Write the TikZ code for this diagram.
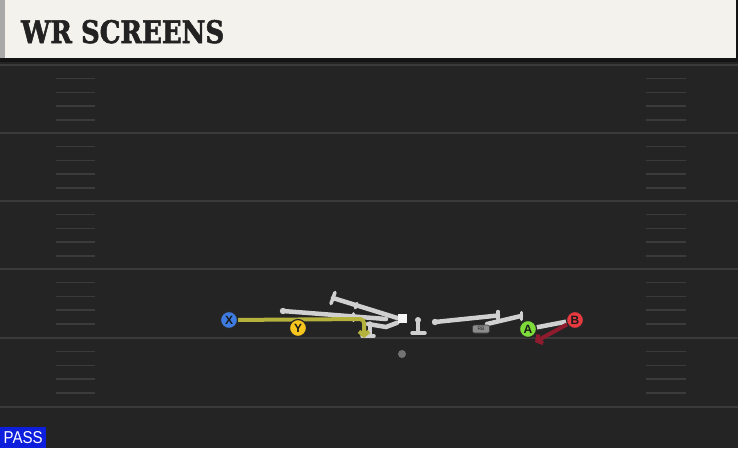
\documentclass[tikz,border=0pt]{standalone}
\usepackage{fontspec}
\usepackage{graphicx}
\usetikzlibrary{arrows.meta}
\newfontfamily\titlefont[BoldFeatures={FakeBold=2}]{DejaVu Serif}
\newfontfamily\sansf{Liberation Sans}
\definecolor{bgc}{HTML}{242424}
\definecolor{yardc}{HTML}{3A3A3A}
\definecolor{hashc}{HTML}{3B3B3B}
\definecolor{creamc}{HTML}{F4F2EC}
\definecolor{stripc}{HTML}{A9A9A9}
\definecolor{bandc}{HTML}{141414}
\definecolor{titlec}{HTML}{222222}
\definecolor{passc}{HTML}{0D1FDD}
\definecolor{routec}{HTML}{D0D0D0}
\definecolor{yelc}{HTML}{B4B23C}
\definecolor{redc}{HTML}{8E1B2E}
\definecolor{xc}{HTML}{3D7BE0}
\definecolor{yc}{HTML}{F6C61F}
\definecolor{ac}{HTML}{7EDC3A}
\definecolor{bc}{HTML}{E63A40}
\pgfdeclarelayer{field}
\pgfdeclarelayer{routes}
\pgfsetlayers{field,routes,main}
\tikzset{
  yard/.style={draw=yardc, line width=2pt},
  hashmark/.style={draw=hashc, line width=1.5pt},
  route/.style={draw=routec, line width=4.5pt, line cap=round},
  barline/.style={draw=routec, line width=3.5pt, line cap=round},
  player/.style={circle, minimum size=17pt, inner sep=0pt, draw=black!85, line width=1.2pt,
    text=black!90, font=\sansf\bfseries\fontsize{12}{12}\selectfont},
  yelroute/.style={draw=yelc, line width=4pt, rounded corners=4pt, -{Straight Barb[length=4pt,width=10pt]}},
  redroute/.style={draw=redc, line width=4pt, -{Straight Barb[length=4pt,width=10pt]}},
}
\begin{document}
\begin{tikzpicture}[x=1pt,y=-1pt]
\useasboundingbox (0,0) rectangle (738,448);
\begin{pgfonlayer}{field}
\fill[bgc] (0,0) rectangle (738,448);
% yard lines
\foreach \y in {65,133,201,269,338,407} \draw[yard] (0,\y) -- (738,\y);
% hash marks
\foreach \b in {65,133,201,269,338} {
  \foreach \k in {1,2,3,4} {
    \pgfmathsetmacro\yy{\b+13.7*\k}
    \draw[hashmark] (56,\yy) -- (95,\yy);
    \draw[hashmark] (646,\yy) -- (686,\yy);
  }
}
% header
\fill[creamc] (0,0) rectangle (736,58);
\fill[stripc] (0,0) rectangle (5,58);
\fill[bandc] (0,58) rectangle (738,62);
\fill[bandc] (736,0) rectangle (738,62);
\end{pgfonlayer}
\node[anchor=base west, inner sep=0pt, text=titlec] (title) at (21,43)
  {\resizebox{203pt}{23pt}{\titlefont\bfseries WR SCREENS}};
% pass tag
\node[anchor=south west, fill=passc, minimum width=46pt, minimum height=21pt, inner sep=0pt, text=white] (pass) at (0,448)
  {\raisebox{-1pt}{\resizebox{39pt}{12pt}{\sansf PASS}}};

% players
\node[player, fill=xc] (X) at (229,320) {X};
\node[player, fill=yc] (Y) at (298,328) {Y};
\node[player, fill=ac] (A) at (528,329) {A};
\node[player, fill=bc] (B) at (575,320) {B};
\node[fill=white!96!black, minimum size=9pt, inner sep=0pt] (C) at (402,318) {};
\node[circle, fill=black!55, minimum size=8pt, inner sep=0pt] (QB) at (402,354) {};
\node[fill=black!45, draw=black!75, line width=0.6pt, rounded corners=2pt, minimum width=17pt, minimum height=8pt, inner sep=0pt,
  font=\sansf\fontsize{5}{5}\selectfont, text=black!85] (RB) at (481,329) {RB};

% coordinates
\coordinate (g1s) at (283,311);
\coordinate (g1e) at (386,319);
\coordinate (g2s) at (333,298);
\coordinate (g3s) at (368,324);
\coordinate (g3m) at (386,327);
\coordinate (r1s) at (435,322);
\coordinate (r1e) at (498,315.5);
\coordinate (r2s) at (487,324);
\coordinate (r2e) at (521,316);
\coordinate (ycorner) at (364,319);
\coordinate (ytip) at (364,338);
\coordinate (btip) at (535,342);

\begin{pgfonlayer}{routes}
% left line blocks
\draw[route] (g1s) -- (g1e);
\fill[routec] (g1s) circle (3.2pt);
\draw[barline, line width=3pt] (353,313.5) -- (353,320.5);
\draw[route] (g2s) -- (C.west);
\draw[barline] (335,292.4) -- (331,303.6);
\draw[barline, line width=3pt] (355.3,308) -- (357,303.3);
\draw[route] (g3s) -- (g3m) -- (C.south west);
% T symbols
\draw[barline] (370,323) -- (370,334);
\draw[barline] (362,336) -- (374,336);
\fill[routec] (418,320) circle (3pt);
\draw[barline] (418,320) -- (418,332);
\draw[barline] (412,333) -- (425,333);
% right line blocks
\draw[route] (r1s) -- (r1e);
\fill[routec] (r1s) circle (3.2pt);
\draw[barline] (498,311.5) -- (498,319);
\draw[route] (r2s) -- (r2e);
\draw[barline] (521.5,312.5) -- (521.5,319.5);
\draw[route] (A) -- (B);
% receiver routes
\draw[yelroute] (X) -- (ycorner) -- (ytip);
\draw[redroute] (B) -- (btip);
\end{pgfonlayer}
\end{tikzpicture}
\end{document}
